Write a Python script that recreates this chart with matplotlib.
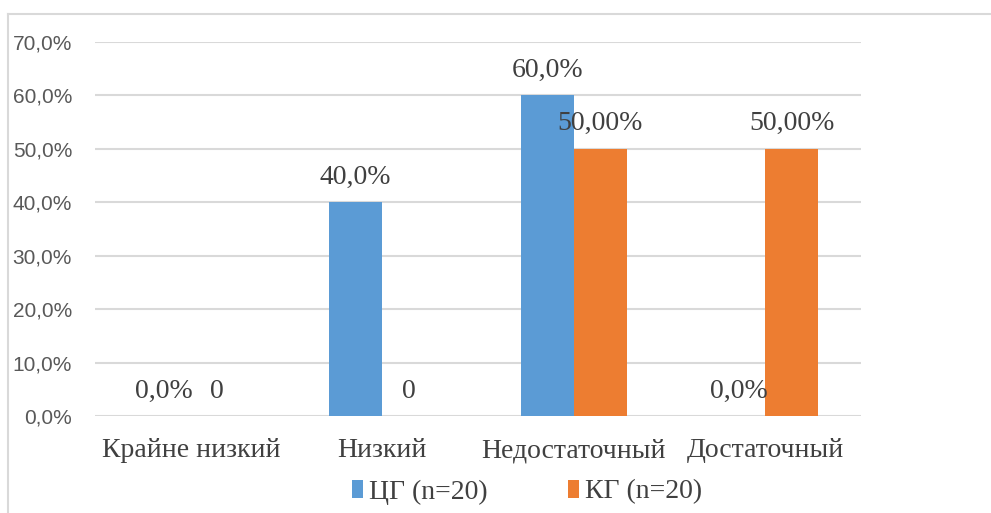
import matplotlib.pyplot as plt
import numpy as np
from matplotlib.lines import Line2D
from matplotlib.ticker import FuncFormatter

CATEGORIES = ["Крайне низкий", "Низкий", "Недостаточный", "Достаточный"]
SERIES_NAMES = ["ЦГ (n=20)", "КГ (n=20)"]
CG_VALUES = [0.0, 0.40, 0.60, 0.0]
KG_VALUES = [0.0, 0.0, 0.50, 0.50]
CG_LABELS = ["0,0%", "40,0%", "60,0%", "0,0%"]
KG_LABELS = ["0", "0", "50,00%", "50,00%"]
Y_TICKS = [0.0, 0.1, 0.2, 0.3, 0.4, 0.5, 0.6, 0.7]

BLUE = "#5b9bd5"
ORANGE = "#ed7d31"
GRID = "#d9d9d9"
TEXT = "#404040"
SERIF = "Liberation Serif"
SANS = "Liberation Sans"


def main() -> None:
    fig = plt.figure(figsize=(9.91, 5.13), dpi=100)
    ax = fig.add_axes([95 / 991, 1 - 416 / 513, 766 / 991, 374 / 513])

    # chart border (only top and left visible in the reference)
    fig.add_artist(Line2D([8 / 991, 1.0], [1 - 14 / 513] * 2, color=GRID, lw=1.5))
    fig.add_artist(Line2D([8 / 991] * 2, [0.0, 1 - 14 / 513], color=GRID, lw=1.5))

    x = np.arange(len(CATEGORIES))
    width = 0.277
    cg_bars = ax.bar(x - width / 2, CG_VALUES, width, color=BLUE, label=SERIES_NAMES[0], zorder=2)
    kg_bars = ax.bar(x + width / 2, KG_VALUES, width, color=ORANGE, label=SERIES_NAMES[1], zorder=2)

    for bars, labels in ((cg_bars, CG_LABELS), (kg_bars, KG_LABELS)):
        for bar, text in zip(bars, labels):
            ax.annotate(
                text,
                (bar.get_x() + bar.get_width() / 2, bar.get_height()),
                xytext=(0, 18),
                textcoords="offset points",
                ha="center",
                va="center",
                fontsize=20,
                family=SERIF,
                color=TEXT,
                zorder=3,
            )

    ax.set_xlim(-0.5, len(CATEGORIES) - 0.5)
    ax.set_ylim(0, 0.7)
    ax.set_yticks(Y_TICKS)
    ax.yaxis.set_major_formatter(FuncFormatter(lambda v, _: f"{v * 100:.1f}%".replace(".", ",")))
    ax.set_xticks(x)
    ax.set_xticklabels(CATEGORIES, family=SERIF, fontsize=20, color=TEXT)
    for label in ax.get_yticklabels():
        label.set_family(SANS)
        label.set_fontsize(15)
        label.set_color("#595959")
    ax.tick_params(axis="both", length=0)
    ax.tick_params(axis="y", pad=16.5)
    ax.tick_params(axis="x", pad=16)

    ax.grid(axis="y", color=GRID, lw=1.5, zorder=0)
    for spine in ax.spines.values():
        spine.set_visible(False)

    ax.legend(
        loc="center",
        bbox_to_anchor=(527 / 991, 1 - 492 / 513),
        bbox_transform=fig.transFigure,
        ncol=2,
        frameon=False,
        prop={"family": SERIF, "size": 20},
        handlelength=0.4,
        handleheight=0.6,
        handletextpad=0.2,
        columnspacing=2.9,
        labelcolor=TEXT,
    )

    fig.savefig("out.png", dpi=100)


if __name__ == "__main__":
    main()
